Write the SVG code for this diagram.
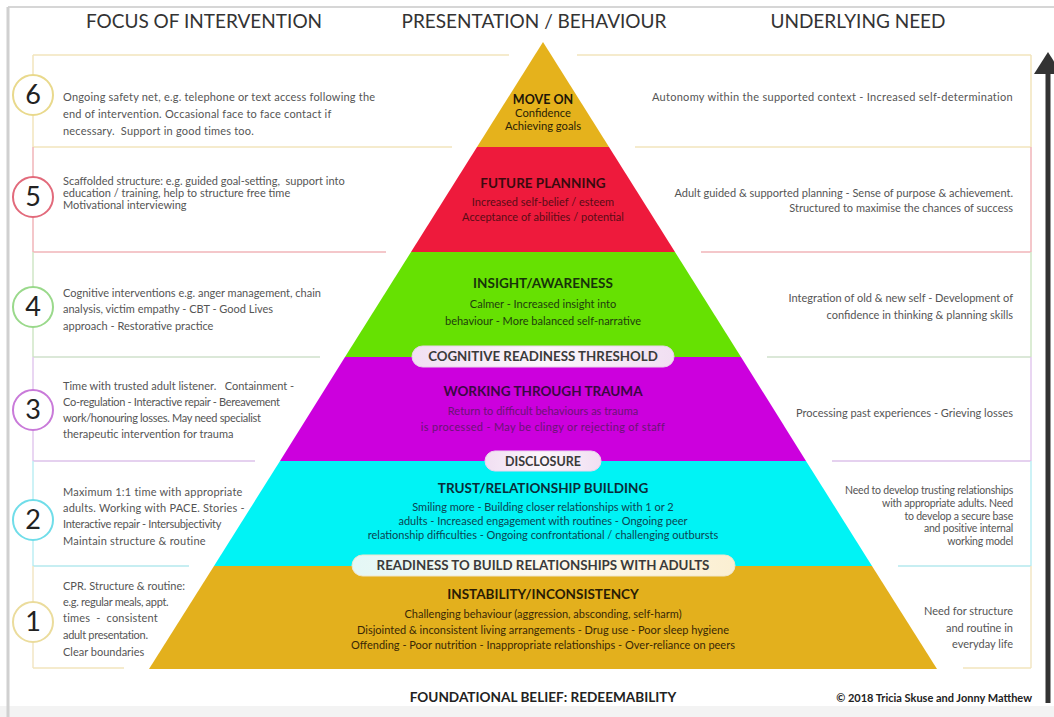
<svg xmlns="http://www.w3.org/2000/svg" width="1054" height="717" viewBox="0 0 1054 717">
<style>
text{font-family:Lato,"Liberation Sans",sans-serif;white-space:pre}
.hd{font-size:19px;fill:#333;text-anchor:middle}
.lt{font-size:11px;fill:#555}
.rt{font-size:11px;fill:#555;text-anchor:end}
.rc{font-size:10.5px;fill:#555;text-anchor:end;letter-spacing:-0.2px}
.wide{letter-spacing:0.2px}
.tight{letter-spacing:-0.3px}
.num{font-size:27px;fill:#222;text-anchor:middle}
.tt{font-size:13.5px;font-weight:bold;text-anchor:middle}
.st{font-size:11px;text-anchor:middle}
.pl{font-size:13.3px;font-weight:bold;fill:#3a3a3a;text-anchor:middle}
.ln{fill:none;stroke-width:1.5}
.cir{fill:#fff;stroke-width:2}
</style>
<defs>
<linearGradient id="pillP" x1="0" y1="0" x2="1" y2="0"><stop offset="0" stop-color="#f1dff2"/><stop offset="0.5" stop-color="#fbf6fb"/><stop offset="1" stop-color="#f1dff2"/></linearGradient>
<linearGradient id="pillY" x1="0" y1="0" x2="1" y2="0"><stop offset="0" stop-color="#e4f7f6"/><stop offset="0.5" stop-color="#fdf9ee"/><stop offset="1" stop-color="#fbefd2"/></linearGradient>
</defs>
<rect width="1054" height="717" fill="#fff"/>
<rect x="0" y="706" width="1054" height="11" fill="#f3f3f3"/>
<line x1="8" y1="7" x2="1054" y2="7" stroke="#d6d6d6" stroke-width="2"/>
<line x1="8" y1="7" x2="8" y2="717" stroke="#d0d0d0" stroke-width="3"/>

<g id="headers">
<text class="hd" x="204" y="28">FOCUS OF INTERVENTION</text>
<text class="hd" x="534" y="28">PRESENTATION / BEHAVIOUR</text>
<text class="hd" x="858" y="28">UNDERLYING NEED</text>
</g>

<g id="connectors">
<line class="ln" stroke="#f2e4bd" x1="33" y1="55" x2="509" y2="55"/>
<line class="ln" stroke="#f2e4bd" x1="577" y1="55" x2="1031" y2="55"/>
<line class="ln" stroke="#f2e4bd" x1="33" y1="55" x2="33" y2="147"/>
<line class="ln" stroke="#f2e4bd" x1="1031" y1="55" x2="1031" y2="147"/>
<line class="ln" stroke="#f2e4bd" x1="33" y1="147" x2="452" y2="147"/>
<line class="ln" stroke="#f2e4bd" x1="635" y1="147" x2="1031" y2="147"/>
<line class="ln" stroke="#f0b4b8" x1="33" y1="147" x2="33" y2="252"/>
<line class="ln" stroke="#f0b4b8" x1="1031" y1="147" x2="1031" y2="252"/>
<line class="ln" stroke="#f0b4b8" x1="33" y1="252" x2="386" y2="252"/>
<line class="ln" stroke="#f0b4b8" x1="701" y1="252" x2="1031" y2="252"/>
<line class="ln" stroke="#cfe6c6" x1="33" y1="252" x2="33" y2="357"/>
<line class="ln" stroke="#cfe6c6" x1="1031" y1="252" x2="1031" y2="357"/>
<line class="ln" stroke="#cfe0cb" x1="33" y1="357" x2="320" y2="357"/>
<line class="ln" stroke="#cfe0cb" x1="767" y1="357" x2="1031" y2="357"/>
<line class="ln" stroke="#e2c8ee" x1="33" y1="357" x2="33" y2="461"/>
<line class="ln" stroke="#e2c8ee" x1="1031" y1="357" x2="1031" y2="461"/>
<line class="ln" stroke="#dcc2ea" x1="33" y1="461" x2="255" y2="461"/>
<line class="ln" stroke="#dcc2ea" x1="832" y1="461" x2="1031" y2="461"/>
<line class="ln" stroke="#bdeef3" x1="33" y1="461" x2="33" y2="566"/>
<line class="ln" stroke="#bdeef3" x1="1031" y1="461" x2="1031" y2="566"/>
<line class="ln" stroke="#b5e8ee" x1="33" y1="566" x2="189" y2="566"/>
<line class="ln" stroke="#b5e8ee" x1="898" y1="566" x2="1031" y2="566"/>
<line class="ln" stroke="#f2e6c4" x1="33" y1="566" x2="33" y2="668"/>
<line class="ln" stroke="#f2e6c4" x1="1031" y1="566" x2="1031" y2="668"/>
<line class="ln" stroke="#f2e4bd" x1="33" y1="668" x2="124" y2="668"/>
<line class="ln" stroke="#f2e4bd" x1="963" y1="668" x2="1031" y2="668"/>
<line x1="1048" y1="703" x2="1048" y2="70" stroke="#333" stroke-width="5"/>
<polygon points="1048,52 1034,74 1062,74" fill="#333"/>
</g>

<g id="pyramid">
<polygon points="543,42 609,147 477,147" fill="#e5b21c"/>
<polygon points="477,147 609,147 675,252 411,252" fill="#ee1a3c"/>
<polygon points="411,252 675,252 741,357 345,357" fill="#66e102"/>
<polygon points="345,357 741,357 806,461 280,461" fill="#cc00dd"/>
<polygon points="280,461 806,461 872,566 214,566" fill="#00f3f5"/>
<polygon points="214,566 872,566 937,669 149,669" fill="#e3b01d"/>
</g>

<g id="level6">
<circle class="cir" cx="33" cy="95" r="20" stroke="#e9d98c"/>
<text class="num" x="33" y="104">6</text>
<text class="lt wide" x="63" y="101">Ongoing safety net, e.g. telephone or text access following the</text>
<text class="lt wide" x="63" y="118">end of intervention. Occasional face to face contact if</text>
<text class="lt wide" x="63" y="135">necessary.  Support in good times too.</text>
<text class="tt" x="543" y="104" fill="#1e1608" style="font-size:12.5px">MOVE ON</text>
<text class="st" x="543" y="117" fill="#2a1e06" style="font-size:11.2px">Confidence</text>
<text class="st" x="543" y="130" fill="#2a1e06" style="font-size:11.2px">Achieving goals</text>
<text class="rt" x="1013" y="101" style="letter-spacing:0.3px">Autonomy within the supported context - Increased self-determination</text>
</g>

<g id="level5">
<circle class="cir" cx="33" cy="197" r="20" stroke="#e26a7b"/>
<text class="num" x="33" y="206">5</text>
<text class="lt" x="63" y="185">Scaffolded structure: e.g. guided goal-setting,  support into</text>
<text class="lt" x="63" y="197">education / training, help to structure free time</text>
<text class="lt" x="63" y="209">Motivational interviewing</text>
<text class="tt" x="543" y="188" fill="#3a0a0e">FUTURE PLANNING</text>
<text class="st" x="543" y="206" fill="#5a0c16">Increased self-belief / esteem</text>
<text class="st" x="543" y="221" fill="#5a0c16">Acceptance of abilities / potential</text>
<text class="rt" x="1013" y="197">Adult guided &amp; supported planning - Sense of purpose &amp; achievement.</text>
<text class="rt" x="1013" y="212">Structured to maximise the chances of success</text>
</g>

<g id="level4">
<circle class="cir" cx="33" cy="307" r="20" stroke="#9ad98b"/>
<text class="num" x="33" y="316">4</text>
<text class="lt" x="63" y="297">Cognitive interventions e.g. anger management, chain</text>
<text class="lt" x="63" y="313">analysis, victim empathy - CBT - Good Lives</text>
<text class="lt" x="63" y="330">approach - Restorative practice</text>
<text class="tt" x="543" y="288" fill="#17330a">INSIGHT/AWARENESS</text>
<text class="st" x="543" y="308" fill="#1e3d0e">Calmer - Increased insight into</text>
<text class="st" x="543" y="325" fill="#1e3d0e">behaviour - More balanced self-narrative</text>
<text class="rt" x="1013" y="302">Integration of old &amp; new self - Development of</text>
<text class="rt" x="1013" y="319">confidence in thinking &amp; planning skills</text>
</g>

<g id="threshold-cognitive">
<rect x="412" y="346" width="262" height="21" rx="10.5" fill="url(#pillP)" stroke="#e8d2ea" stroke-width="1"/>
<text class="pl" x="543" y="361">COGNITIVE READINESS THRESHOLD</text>
</g>

<g id="level3">
<circle class="cir" cx="33" cy="410" r="20" stroke="#c97ad9"/>
<text class="num" x="33" y="419">3</text>
<text class="lt" x="63" y="390">Time with trusted adult listener.   Containment -</text>
<text class="lt tight" x="63" y="406">Co-regulation - Interactive repair - Bereavement</text>
<text class="lt tight" x="63" y="422">work/honouring losses. May need specialist</text>
<text class="lt" x="63" y="438">therapeutic intervention for trauma</text>
<text class="tt" x="543" y="396" fill="#3a0842">WORKING THROUGH TRAUMA</text>
<text class="st" x="543" y="415" fill="#6a1474">Return to difficult behaviours as trauma</text>
<text class="st" x="543" y="431" fill="#6a1474" style="letter-spacing:0.3px">is processed - May be clingy or rejecting of staff</text>
<text class="rt" x="1013" y="417">Processing past experiences - Grieving losses</text>
</g>

<g id="threshold-disclosure">
<rect x="485" y="451" width="116" height="20" rx="10" fill="url(#pillP)" stroke="#ead4ee" stroke-width="1"/>
<text class="pl" x="543" y="466" style="font-size:12.5px">DISCLOSURE</text>
</g>

<g id="level2">
<circle class="cir" cx="33" cy="520" r="20" stroke="#70dde9"/>
<text class="num" x="33" y="529">2</text>
<text class="lt wide" x="63" y="496">Maximum 1:1 time with appropriate</text>
<text class="lt wide" x="63" y="512">adults. Working with PACE. Stories -</text>
<text class="lt tight" x="63" y="528">Interactive repair - Intersubjectivity</text>
<text class="lt wide" x="63" y="545">Maintain structure &amp; routine</text>
<text class="tt" x="543" y="493" fill="#0a2c38">TRUST/RELATIONSHIP BUILDING</text>
<text class="st" x="543" y="511" fill="#0c4452">Smiling more - Building closer relationships with 1 or 2</text>
<text class="st" x="543" y="525" fill="#0c4452">adults - Increased engagement with routines - Ongoing peer</text>
<text class="st" x="543" y="539" fill="#0c4452">relationship difficulties - Ongoing confrontational / challenging outbursts</text>
<text class="rc" x="1013" y="494">Need to develop trusting relationships</text>
<text class="rc" x="1013" y="507">with appropriate adults. Need</text>
<text class="rc" x="1013" y="520">to develop a secure base</text>
<text class="rc" x="1013" y="532">and positive internal</text>
<text class="rc" x="1013" y="545">working model</text>
</g>

<g id="threshold-readiness">
<rect x="352" y="555" width="383" height="21" rx="10.5" fill="url(#pillY)" stroke="#f0e6cc" stroke-width="1"/>
<text class="pl" x="543" y="570">READINESS TO BUILD RELATIONSHIPS WITH ADULTS</text>
</g>

<g id="level1">
<circle class="cir" cx="33" cy="622" r="20" stroke="#ebdc9c"/>
<text class="num" x="33" y="631">1</text>
<text class="lt" x="63" y="590">CPR. Structure &amp; routine:</text>
<text class="lt tight" x="63" y="606">e.g. regular meals, appt.</text>
<text class="lt wide" x="63" y="622">times  -  consistent</text>
<text class="lt tight" x="63" y="639">adult presentation.</text>
<text class="lt" x="63" y="656">Clear boundaries</text>
<text class="tt" x="543" y="599" fill="#2a1c04">INSTABILITY/INCONSISTENCY</text>
<text class="st" x="543" y="618" fill="#3a2806">Challenging behaviour (aggression, absconding, self-harm)</text>
<text class="st" x="543" y="634" fill="#3a2806">Disjointed &amp; inconsistent living arrangements - Drug use - Poor sleep hygiene</text>
<text class="st" x="543" y="649" fill="#3a2806">Offending - Poor nutrition - Inappropriate relationships - Over-reliance on peers</text>
<text class="rt" x="1013" y="615">Need for structure</text>
<text class="rt" x="1013" y="632">and routine in</text>
<text class="rt" x="1013" y="648">everyday life</text>
</g>

<g id="footer">
<text x="543" y="702" text-anchor="middle" style="font-size:13.6px;font-weight:bold;fill:#222">FOUNDATIONAL BELIEF: REDEEMABILITY</text>
<text x="1032" y="702" text-anchor="end" style="font-size:11px;font-weight:bold;fill:#222">© 2018 Tricia Skuse and Jonny Matthew</text>
</g>
</svg>
